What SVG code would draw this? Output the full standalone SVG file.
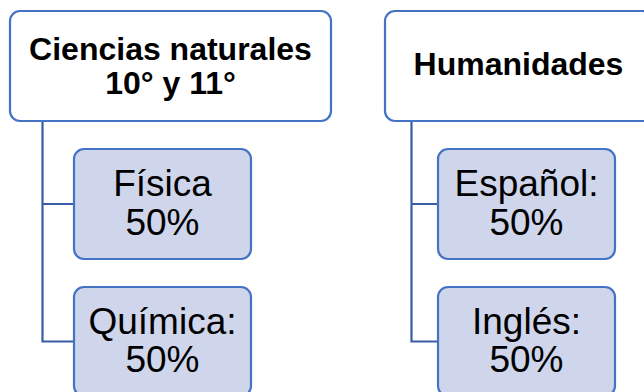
<svg xmlns="http://www.w3.org/2000/svg" width="644" height="392" viewBox="0 0 644 392">
<style>
.top{fill:#FFFFFF;stroke:#4472C4;stroke-width:2.2}
.child{fill:#CFD5EA;stroke:#4472C4;stroke-width:2.2}
.conn{fill:none;stroke:#3A5DA5;stroke-width:2.2}
.tt{font-family:"Liberation Sans",Arial,sans-serif;font-weight:bold;font-size:32px;fill:#000;text-anchor:middle}
.ct{font-family:"Liberation Sans",Arial,sans-serif;font-size:37px;fill:#000;text-anchor:middle}
</style>
<rect width="644" height="392" fill="#FFFFFF"/>
<g id="connectors">
<path class="conn" d="M42.5,121 V341.5 H74 M42.5,204 H74"/>
<path class="conn" d="M411.5,121 V341.5 H438 M411.5,204 H438"/>
</g>
<g id="ciencias">
<rect class="top" x="10" y="11" width="321" height="110" rx="10"/>
<text class="tt" x="170.5" y="59.5">Ciencias naturales</text>
<text class="tt" x="170.5" y="93.5">10° y 11°</text>
</g>
<g id="fisica">
<rect class="child" x="74" y="149" width="177" height="110" rx="10"/>
<text class="ct" x="162.5" y="196">Física</text>
<text class="ct" x="162.5" y="234.5">50%</text>
</g>
<g id="quimica">
<rect class="child" x="74" y="287" width="177" height="109" rx="10"/>
<text class="ct" x="162.5" y="333.5">Química:</text>
<text class="ct" x="162.5" y="372">50%</text>
</g>
<g id="humanidades">
<rect class="top" x="385" y="11" width="267" height="110" rx="10"/>
<text class="tt" x="518.5" y="74.5">Humanidades</text>
</g>
<g id="espanol">
<rect class="child" x="438" y="149" width="177" height="110" rx="10"/>
<text class="ct" x="526.5" y="196">Español:</text>
<text class="ct" x="526.5" y="234.5">50%</text>
</g>
<g id="ingles">
<rect class="child" x="438" y="287" width="177" height="109" rx="10"/>
<text class="ct" x="526.5" y="333.5">Inglés:</text>
<text class="ct" x="526.5" y="372">50%</text>
</g>
</svg>
